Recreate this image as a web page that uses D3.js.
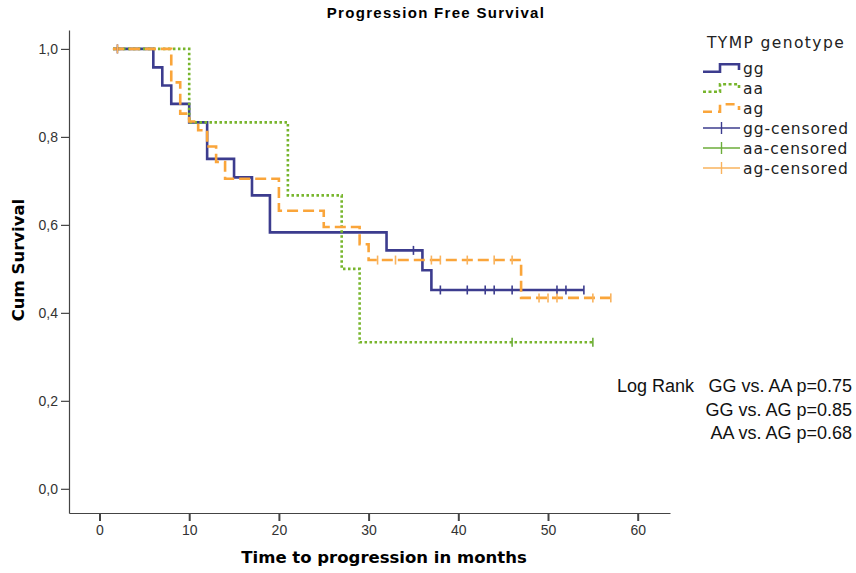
<!DOCTYPE html>
<html>
<head>
<meta charset="utf-8">
<script src="https://cdn.jsdelivr.net/npm/d3@7"></script>
<style>
  body { margin: 0; background: #fff; }
  svg { display: block; font-family: "Liberation Sans", Arial, sans-serif; }
</style>
</head>
<body>
<svg width="856" height="573"></svg>
<script>
// Kaplan-Meier steps (time in months, cumulative survival)
const ggTimes = [1.5, 6, 7, 8, 10, 12, 15, 17, 19, 32, 36, 37];
const ggSurv  = [1, 0.958, 0.917, 0.875, 0.833, 0.75, 0.708, 0.667, 0.583, 0.542, 0.497, 0.452];
const ggEnd = 54;
const ggCensored = [2, 35, 38, 41, 43, 44, 46, 51, 52, 54];

const aaTimes = [1.5, 10, 21, 27, 29];
const aaSurv  = [1, 0.833, 0.667, 0.5, 0.333];
const aaEnd = 55;
const aaCensored = [46, 55];

const agTimes = [1.5, 8, 9, 10, 11, 12, 13, 14, 20, 25, 29, 30, 47];
const agSurv  = [1, 0.924, 0.853, 0.835, 0.815, 0.778, 0.743, 0.705, 0.632, 0.595, 0.556, 0.52, 0.434];
const agEnd = 57;
const agCensored = [2, 31, 33, 37, 38, 41, 44, 46, 49, 50, 51, 55, 57];

const xTicks = [0, 10, 20, 30, 40, 50, 60];
const yTicks = [0, 0.2, 0.4, 0.6, 0.8, 1.0];
const legendLabels = ["gg", "aa", "ag", "gg-censored", "aa-censored", "ag-censored"];
const logRankLines = ["GG vs. AA p=0.75", "GG vs. AG p=0.85", "AA vs. AG p=0.68"];

const svg = d3.select("svg");

const x = d3.scaleLinear().domain([-3.4, 63.6]).range([69, 670]);
const y = d3.scaleLinear().domain([-0.055, 1.043]).range([513, 30]);

// axes
const xAxis = svg.append("g")
    .attr("transform", "translate(0,513)")
    .call(d3.axisBottom(x).tickValues(xTicks).tickSize(8).tickSizeOuter(0).tickPadding(4));
const yAxis = svg.append("g")
    .attr("transform", "translate(69,0)")
    .call(d3.axisLeft(y).tickValues(yTicks).tickSize(8).tickSizeOuter(0).tickPadding(3)
        .tickFormat(d => d3.format(".1f")(d).replace(".", ",")));

[xAxis, yAxis].forEach(g => {
    g.selectAll("path, line").attr("stroke", "#444").attr("stroke-width", 1.2);
    g.selectAll("text").attr("fill", "#333").style("font-size", "14px")
        .style("font-family", "'Liberation Sans', Arial, sans-serif");
});
xAxis.selectAll(".tick line").attr("stroke-width", 2);

// curves
const series = [
    { times: ggTimes, surv: ggSurv, end: ggEnd, cens: ggCensored, color: "#3c3c8e", censColor: "#3c3c8e", dash: null, width: 2.6 },
    { times: aaTimes, surv: aaSurv, end: aaEnd, cens: aaCensored, color: "#77b52c", censColor: "#6cad3a", dash: "2.5,2.5", width: 2.6 },
    { times: agTimes, surv: agSurv, end: agEnd, cens: agCensored, color: "#faa53a", censColor: "#f9b35e", dash: "11,5", width: 2.6 }
];

const line = d3.line()
    .x(d => x(d[0]))
    .y(d => y(d[1]))
    .curve(d3.curveStepAfter);

function survAt(s, t) {
    let v = s.surv[0];
    s.times.forEach((tt, i) => { if (tt <= t) v = s.surv[i]; });
    return v;
}

series.forEach(s => {
    const pts = s.times.map((t, i) => [t, s.surv[i]]);
    pts.push([s.end, s.surv[s.surv.length - 1]]);
    svg.append("path")
        .attr("d", line(pts))
        .attr("fill", "none")
        .attr("stroke", s.color)
        .attr("stroke-width", s.width)
        .attr("stroke-dasharray", s.dash);
});

series.forEach(s => {
    svg.append("g").selectAll("line")
        .data(s.cens)
        .enter()
        .append("line")
        .attr("x1", d => x(d)).attr("x2", d => x(d))
        .attr("y1", d => y(survAt(s, d)) - 4.5)
        .attr("y2", d => y(survAt(s, d)) + 4.5)
        .attr("stroke", s.censColor)
        .attr("stroke-width", 1.6);
});

// titles
svg.append("text")
    .attr("x", 436).attr("y", 18)
    .attr("text-anchor", "middle")
    .style("font-weight", "bold").style("font-size", "15px")
    .style("letter-spacing", "1.3px")
    .text("Progression Free Survival");

const boldFont = "'DejaVu Sans', Verdana, sans-serif";
svg.append("text")
    .attr("x", 384).attr("y", 563)
    .attr("text-anchor", "middle")
    .style("font-family", boldFont)
    .style("font-weight", "bold").style("font-size", "16.5px")
    .text("Time to progression in months");

svg.append("text")
    .attr("transform", "translate(24,260) rotate(-90)")
    .attr("text-anchor", "middle")
    .style("font-family", boldFont)
    .style("font-weight", "bold").style("font-size", "16.5px")
    .text("Cum Survival");

// legend
const legend = svg.append("g").attr("transform", "translate(703,0)")
    .style("font-family", "'DejaVu Sans', Verdana, sans-serif");
legend.append("text")
    .attr("x", 4).attr("y", 48)
    .attr("fill", "#222")
    .style("font-size", "15.5px")
    .style("letter-spacing", "1.4px")
    .text("TYMP genotype");

const stepSym = "M0,3.7 H17 V-3.7 H36 V2";
legendLabels.forEach((lab, i) => {
    const cy = 68 + i * 20;
    const g = legend.append("g").attr("transform", `translate(0,${cy})`);
    if (i < 3) {
        const s = series[i];
        g.append("path")
            .attr("d", stepSym)
            .attr("fill", "none")
            .attr("stroke", s.color)
            .attr("stroke-width", s.width)
            .attr("stroke-dasharray", i === 1 ? "3,2.5" : (i === 2 ? "9,6" : null));
    } else {
        const s = series[i - 3];
        g.append("line").attr("x1", 0).attr("x2", 37).attr("y1", 0).attr("y2", 0)
            .attr("stroke", s.censColor).attr("stroke-width", 1.4);
        g.append("line").attr("x1", 18.5).attr("x2", 18.5).attr("y1", -6).attr("y2", 6)
            .attr("stroke", s.censColor).attr("stroke-width", 1.4);
    }
    g.append("text")
        .attr("x", 40).attr("y", 5.5)
        .attr("fill", "#222")
        .style("font-size", "15.5px")
        .style("letter-spacing", "0.9px")
        .text(lab);
});

// log rank annotation
const lr = svg.append("g")
    .style("font-family", "'Liberation Sans Narrow', 'Arial Narrow', sans-serif")
    .style("font-size", "18px")
    .attr("fill", "#111");
lr.append("text").attr("x", 617).attr("y", 392).text("Log Rank");
lr.selectAll("text.p")
    .data(logRankLines)
    .enter()
    .append("text")
    .attr("class", "p")
    .attr("x", 852)
    .attr("y", (d, i) => 392 + i * 23.5)
    .attr("text-anchor", "end")
    .text(d => d);
</script>
</body>
</html>
